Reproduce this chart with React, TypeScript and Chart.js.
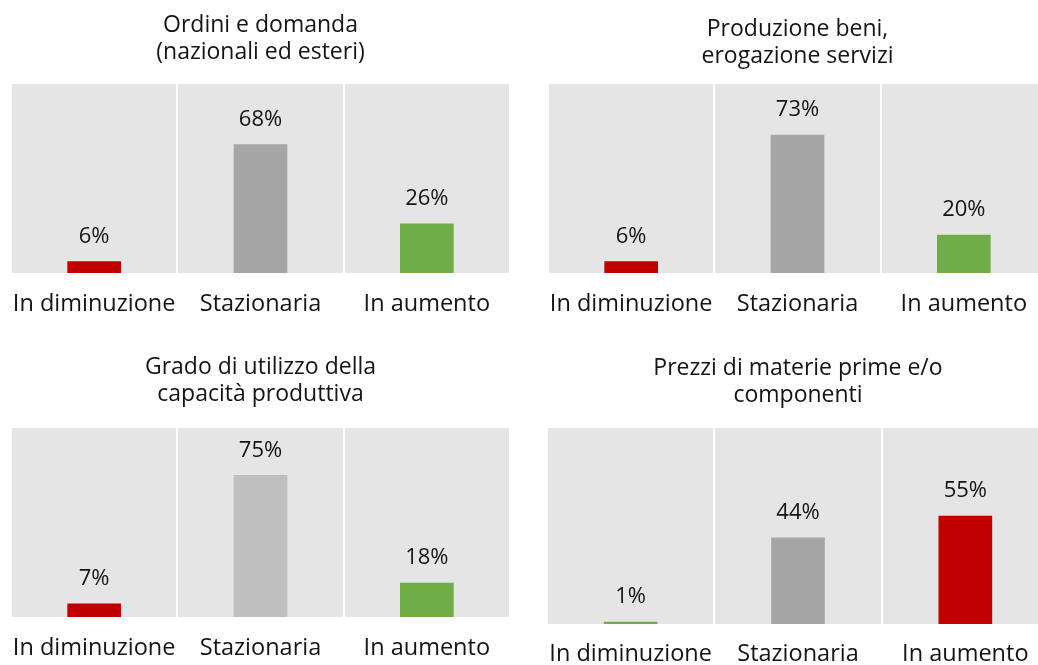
import React, { useEffect, useRef } from "react";
import { Chart, registerables } from "chart.js";

Chart.register(...registerables);

const categories = ["In diminuzione", "Stazionaria", "In aumento"];

const title1 = ["Ordini e domanda", "(nazionali ed esteri)"];
const values1 = [6, 68, 26];
const colors1 = ["#C00000", "#A6A6A6", "#70AD47"];

const title2 = ["Produzione beni,", "erogazione servizi"];
const values2 = [6, 73, 20];
const colors2 = ["#C00000", "#A6A6A6", "#70AD47"];

const title3 = ["Grado di utilizzo della", "capacità produttiva"];
const values3 = [7, 75, 18];
const colors3 = ["#C00000", "#BFBFBF", "#70AD47"];

const title4 = ["Prezzi di materie prime e/o", "componenti"];
const values4 = [1, 44, 55];
const colors4 = ["#70AD47", "#A6A6A6", "#C00000"];

const FONT = "'Open Sans'";
const PAD_X = 30;
const TEXT_COLOR = "#141414";

type PanelProps = {
  title: string[];
  values: number[];
  colors: string[];
  plotLeft: number;
  plotWidth: number;
  canvasTop: number;
  titleLine1: number;
  plotTop: number;
  plotBottom: number;
  labelCenter: number;
};

const bgPlugin = {
  id: "plotBg",
  beforeDraw(chart: any) {
    const { ctx, chartArea } = chart;
    ctx.save();
    ctx.fillStyle = "#E5E5E5";
    ctx.fillRect(chartArea.left, chartArea.top, chartArea.right - chartArea.left, chartArea.bottom - chartArea.top);
    ctx.restore();
  },
};

const valuePlugin = {
  id: "valueLabels",
  afterDatasetsDraw(chart: any) {
    const { ctx } = chart;
    const meta = chart.getDatasetMeta(0);
    const data = chart.data.datasets[0].data;
    ctx.save();
    ctx.fillStyle = TEXT_COLOR;
    ctx.font = `22px ${FONT}`;
    ctx.textAlign = "center";
    ctx.textBaseline = "middle";
    meta.data.forEach((bar: any, i: number) => {
      ctx.fillText(`${data[i]}%`, bar.x, bar.y - 25);
    });
    ctx.restore();
  },
};

function Panel(p: PanelProps) {
  const ref = useRef<HTMLCanvasElement>(null);
  const titleSize = 23;
  const titleLH = 27;
  const titlePadTop = p.titleLine1 - p.canvasTop - titleLH / 2;
  const titlePadBottom = p.plotTop - p.canvasTop - titlePadTop - titleLH * p.title.length;
  const labelSize = 23.5;
  const labelLH = labelSize * 1.2;
  const tickPad = p.labelCenter + 1.5 - p.plotBottom - labelLH / 2;
  const height = Math.round(p.plotBottom - p.canvasTop + tickPad * 2 + labelLH);
  const width = p.plotWidth + PAD_X * 2;

  useEffect(() => {
    if (!ref.current) return;
    const chart = new Chart(ref.current, {
      type: "bar",
      data: {
        labels: categories,
        datasets: [
          {
            data: p.values,
            backgroundColor: p.colors,
            barThickness: 53,
            borderWidth: 0,
          },
        ],
      },
      options: {
        animation: false,
        responsive: false,
        maintainAspectRatio: false,
        layout: { padding: { left: PAD_X, right: PAD_X, top: 0, bottom: 0 } },
        plugins: {
          legend: { display: false },
          tooltip: { enabled: false },
          title: {
            display: true,
            text: p.title,
            color: TEXT_COLOR,
            font: { family: FONT, size: titleSize, weight: "normal", lineHeight: titleLH / titleSize },
            padding: { top: titlePadTop, bottom: titlePadBottom },
          },
        },
        scales: {
          x: {
            offset: true,
            grid: { display: true, color: "#FFFFFF", lineWidth: 2, offset: true, drawTicks: false },
            border: { display: false },
            ticks: {
              color: TEXT_COLOR,
              padding: tickPad,
              maxRotation: 0,
              minRotation: 0,
              autoSkip: false,
              font: { family: FONT, size: labelSize, lineHeight: 1.2 },
            },
          },
          y: { display: false, min: 0, max: 100 },
        },
      },
      plugins: [bgPlugin, valuePlugin],
    });
    return () => chart.destroy();
  }, []);

  return (
    <canvas
      ref={ref}
      width={width}
      height={height}
      style={{ position: "absolute", left: p.plotLeft - PAD_X, top: p.canvasTop, width, height }}
    />
  );
}

export default function App() {
  return (
    <div
      style={{
        position: "absolute",
        left: 0,
        top: 0,
        width: 1038,
        height: 665,
        overflow: "hidden",
        background: "#FFFFFF",
      }}
    >
      <Panel title={title1} values={values1} colors={colors1} plotLeft={11} plotWidth={499} canvasTop={0} titleLine1={25} plotTop={84} plotBottom={273} labelCenter={303} />
      <Panel title={title2} values={values2} colors={colors2} plotLeft={548} plotWidth={499} canvasTop={0} titleLine1={29} plotTop={84} plotBottom={273} labelCenter={303} />
      <Panel title={title3} values={values3} colors={colors3} plotLeft={11} plotWidth={499} canvasTop={335} titleLine1={367} plotTop={428} plotBottom={617} labelCenter={647} />
      <Panel title={title4} values={values4} colors={colors4} plotLeft={547} plotWidth={502} canvasTop={335} titleLine1={368} plotTop={428} plotBottom={624} labelCenter={653} />
    </div>
  );
}
